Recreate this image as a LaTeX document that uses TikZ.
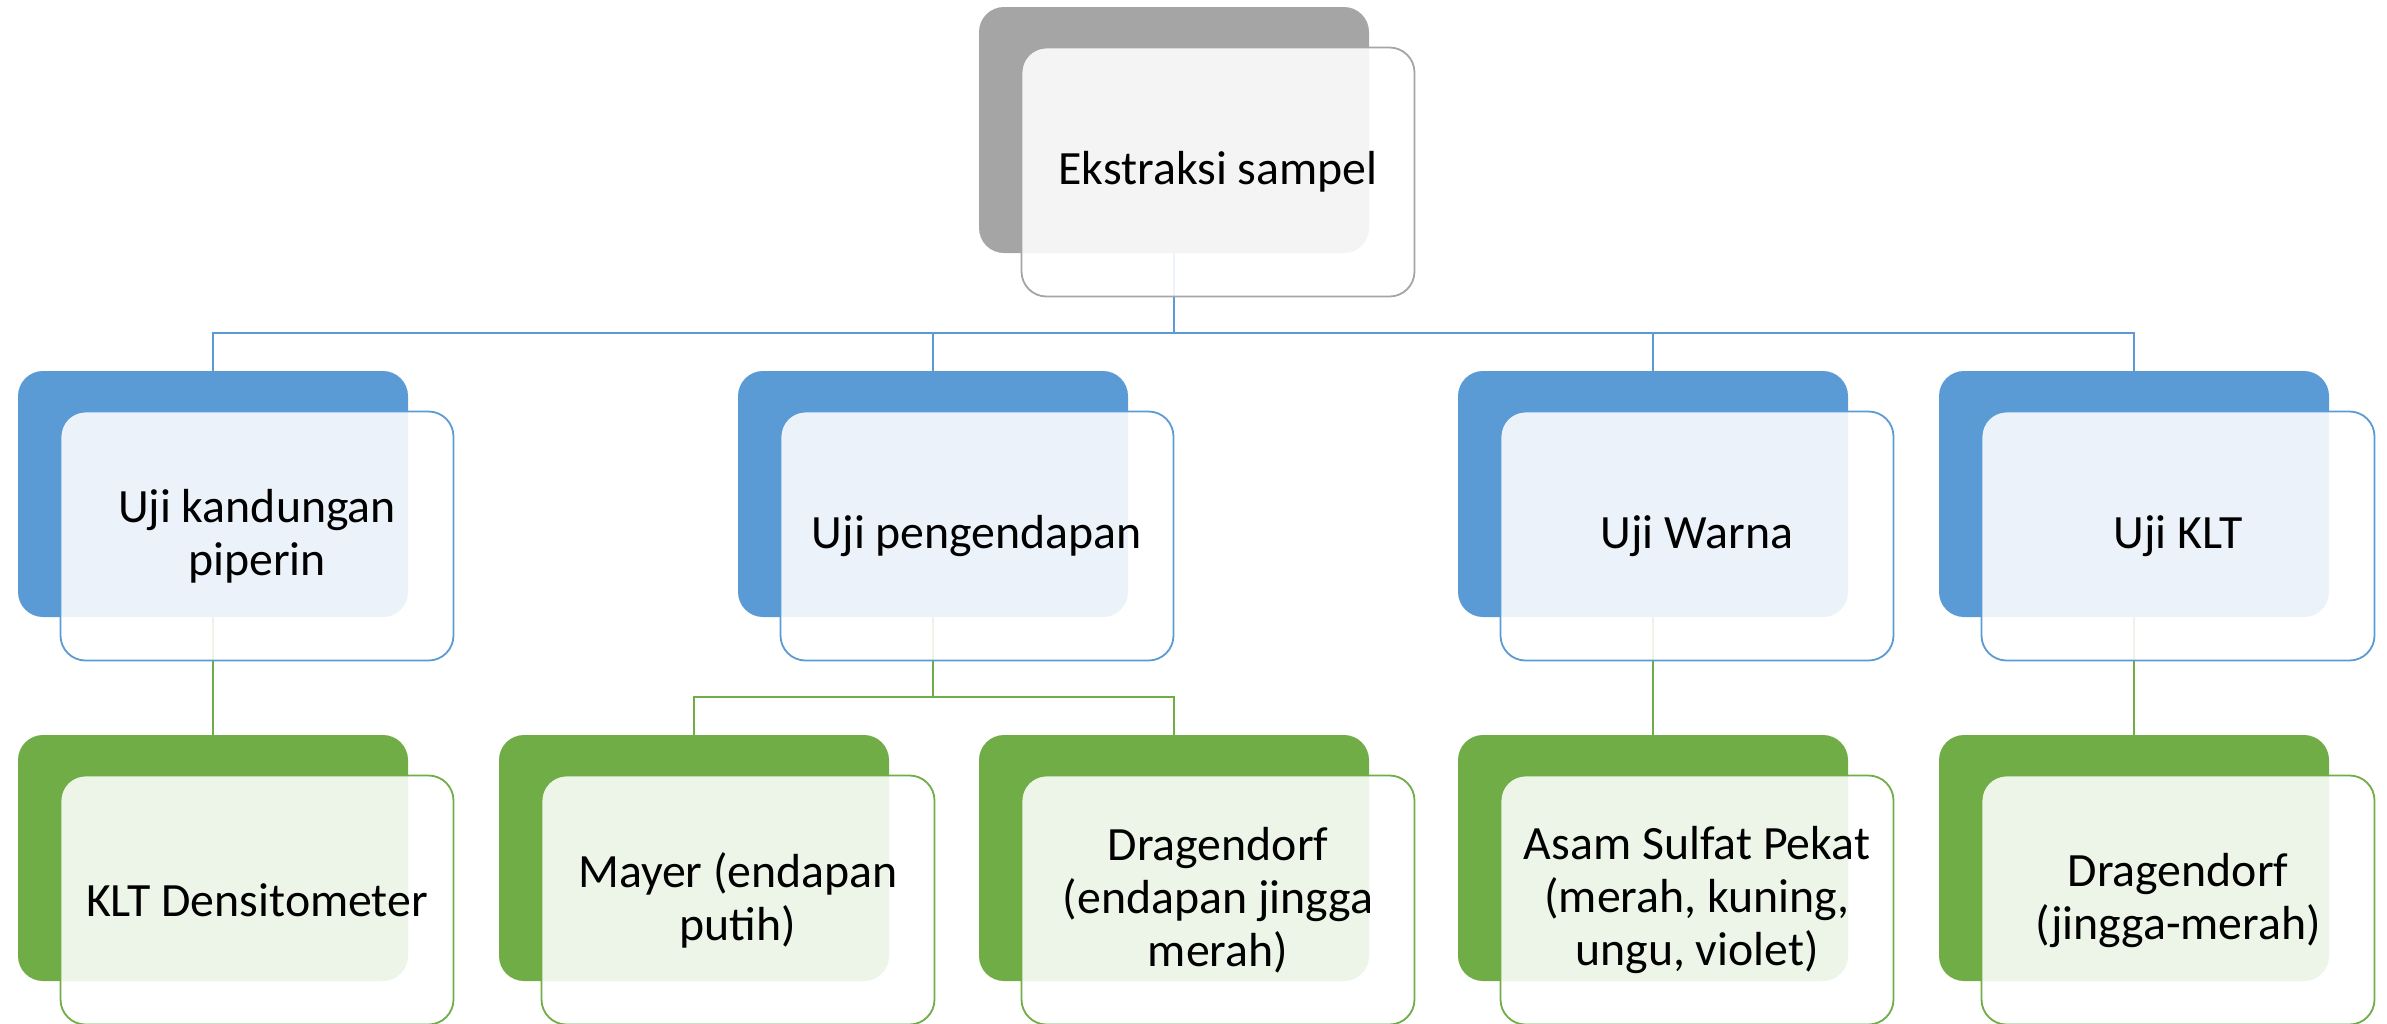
\documentclass[tikz,border=0pt]{standalone}
\usepackage{fontspec}
\setmainfont{Carlito}
\definecolor{accblue}{HTML}{5B9BD5}
\definecolor{accgreen}{HTML}{70AD47}
\definecolor{accgray}{HTML}{A5A5A5}
\tikzset{
  backbox/.style={rounded corners=12.5pt, minimum width=195pt, minimum height=123pt,
    inner sep=0pt, fill=#1},
  frontbox/.style={rounded corners=12.5pt, minimum width=196.5pt, minimum height=124.5pt,
    inner sep=0pt, draw=#1, line width=0.9pt, fill=white, fill opacity=0.88,
    text opacity=1, align=center, font=\fontsize{23.9}{26.5}\selectfont,
    xshift=22pt, yshift=-21pt},
  link/.style={draw=#1, line width=1.2pt},
}
\begin{document}
\begin{tikzpicture}[x=0.5pt, y=-0.5pt]
\useasboundingbox (0,0) rectangle (2387,1023);

% back panels
\node[backbox=accgray] (b0) at (1174,130) {};
\node[backbox=accblue] (b1) at (213,494) {};
\node[backbox=accblue] (b2) at (933,494) {};
\node[backbox=accblue] (b3) at (1653,494) {};
\node[backbox=accblue] (b4) at (2134,494) {};
\node[backbox=accgreen] (c1) at (213,858) {};
\node[backbox=accgreen] (c2) at (694,858) {};
\node[backbox=accgreen] (c3) at (1174,858) {};
\node[backbox=accgreen] (c4) at (1653,858) {};
\node[backbox=accgreen] (c5) at (2134,858) {};

% tree connectors
\coordinate (bus) at (1174,333);
\coordinate (split) at (933,697);
\draw[link=accblue] (b0.south) -- (bus);
\draw[link=accblue] (b1.north) |- (bus);
\draw[link=accblue] (b2.north) |- (bus);
\draw[link=accblue] (b3.north) |- (bus);
\draw[link=accblue] (b4.north) |- (bus);
\draw[link=accgreen] (b1.south) -- (c1.north);
\draw[link=accgreen] (b2.south) -- (split);
\draw[link=accgreen] (c2.north) |- (split);
\draw[link=accgreen] (c3.north) |- (split);
\draw[link=accgreen] (b3.south) -- (c4.north);
\draw[link=accgreen] (b4.south) -- (c5.north);

% front panels with labels
\node[frontbox=accgray] (f0) at (b0.center) {Ekstraksi sampel};
\node[frontbox=accblue] (f1) at (b1.center) {Uji kandungan\\piperin};
\node[frontbox=accblue] (f2) at (b2.center) {Uji pengendapan};
\node[frontbox=accblue] (f3) at (b3.center) {Uji Warna};
\node[frontbox=accblue] (f4) at (b4.center) {Uji KLT};
\node[frontbox=accgreen] (g1) at (c1.center) {KLT Densitometer};
\node[frontbox=accgreen] (g2) at (c2.center) {Mayer (endapan\\putih)};
\node[frontbox=accgreen] (g3) at (c3.center) {Dragendorf\\(endapan jingga\\merah)};
\node[frontbox=accgreen] (g4) at (c4.center) {Asam Sulfat Pekat\\(merah, kuning,\\ungu, violet)};
\node[frontbox=accgreen] (g5) at (c5.center) {Dragendorf\\(jingga-merah)};
\end{tikzpicture}
\end{document}
